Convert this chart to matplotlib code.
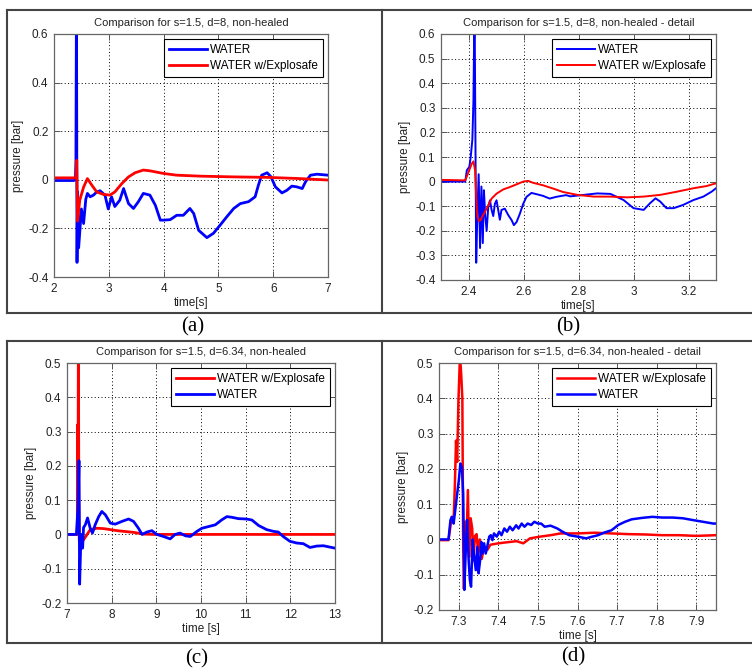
import numpy as np
import matplotlib.pyplot as plt
from matplotlib.lines import Line2D

plt.rcParams['font.family'] = ['Liberation Sans', 'DejaVu Sans']
plt.rcParams['axes.unicode_minus'] = False

# (a) s=1.5, d=8
a_water_t = [2.0, 2.36, 2.39, 2.40, 2.41, 2.42, 2.43, 2.45, 2.50, 2.54, 2.58, 2.61, 2.66, 2.72, 2.78,
             2.84, 2.93, 2.99, 3.05, 3.11, 3.20, 3.27, 3.36, 3.45, 3.54, 3.63, 3.75, 3.85, 3.94, 4.00,
             4.12, 4.24, 4.36, 4.48, 4.55, 4.64, 4.79, 4.91, 5.03, 5.15, 5.28, 5.40, 5.55, 5.67, 5.73,
             5.79, 5.89, 5.96, 6.04, 6.16, 6.25, 6.34, 6.43, 6.53, 6.59, 6.68, 6.80, 7.00]
a_water_p = [-0.003, -0.003, 0.0, 0.08, 0.75, -0.34, -0.05, -0.28, -0.12, -0.18, -0.08, -0.056, -0.07,
             -0.063, -0.05, -0.045, -0.063, -0.12, -0.07, -0.11, -0.084, -0.036, -0.098, -0.118, -0.09,
             -0.056, -0.063, -0.105, -0.166, -0.166, -0.164, -0.146, -0.146, -0.118, -0.139, -0.208,
             -0.238, -0.22, -0.187, -0.153, -0.118, -0.098, -0.09, -0.07, -0.022, 0.019, 0.029, 0.012,
             -0.029, -0.054, -0.043, -0.026, -0.029, -0.036, -0.008, 0.019, 0.023, 0.019]
a_expl_t = [2.0, 2.40, 2.415, 2.43, 2.47, 2.54, 2.61, 2.69, 2.78, 2.90, 3.02, 3.11, 3.24, 3.36, 3.48,
            3.63, 3.75, 4.00, 4.24, 4.67, 5.28, 5.89, 6.49, 7.00]
a_expl_p = [0.008, 0.008, 0.08, -0.17, -0.084, -0.03, 0.005, -0.022, -0.05, -0.06, -0.063, -0.05,
            -0.015, 0.012, 0.029, 0.04, 0.037, 0.026, 0.019, 0.015, 0.012, 0.01, 0.005, -0.001]

# (b) s=1.5, d=8 - detail
b_water_t = [2.30, 2.388, 2.394, 2.403, 2.408, 2.414, 2.418, 2.422, 2.428, 2.432, 2.437, 2.442, 2.447,
             2.452, 2.456, 2.461, 2.466, 2.472, 2.478, 2.484, 2.490, 2.496, 2.502, 2.508, 2.514, 2.520,
             2.532, 2.545, 2.557, 2.565, 2.575, 2.587, 2.599, 2.611, 2.629, 2.647, 2.671, 2.695, 2.719,
             2.755, 2.77, 2.82, 2.868, 2.916, 2.964, 3.0, 3.037, 3.06, 3.08, 3.097, 3.12, 3.146, 3.18,
             3.218, 3.254, 3.284, 3.30]
b_water_p = [0.0, 0.0, 0.046, 0.06, 0.1, 0.17, 0.33, 0.75, -0.33, -0.14, 0.03, -0.27, -0.02, -0.25,
             -0.035, -0.14, -0.2, -0.1, -0.076, -0.115, -0.14, -0.09, -0.076, -0.115, -0.155, -0.115,
             -0.11, -0.137, -0.157, -0.177, -0.164, -0.13, -0.09, -0.062, -0.046, -0.051, -0.058,
             -0.069, -0.062, -0.055, -0.06, -0.054, -0.048, -0.05, -0.075, -0.108, -0.115, -0.088,
             -0.068, -0.081, -0.108, -0.108, -0.095, -0.075, -0.061, -0.041, -0.027]
b_expl_t = [2.30, 2.388, 2.397, 2.405, 2.412, 2.418, 2.424, 2.428, 2.432, 2.437, 2.444, 2.452, 2.46,
            2.472, 2.484, 2.502, 2.526, 2.551, 2.575, 2.599, 2.617, 2.635, 2.671, 2.707, 2.743, 2.796,
            2.856, 2.916, 2.977, 3.037, 3.097, 3.158, 3.218, 3.266, 3.30]
b_expl_p = [0.007, 0.005, 0.03, 0.053, 0.073, 0.082, 0.046, -0.06, -0.14, -0.16, -0.157, -0.137,
            -0.123, -0.096, -0.069, -0.049, -0.032, -0.022, -0.011, 0.0, 0.003, -0.005, -0.015,
            -0.028, -0.042, -0.054, -0.061, -0.061, -0.064, -0.061, -0.054, -0.041, -0.027, -0.018,
            -0.007]

# (c) s=1.5, d=6.34
c_expl_t = [7.0, 7.23, 7.24, 7.245, 7.255, 7.265, 7.275, 7.32, 7.37, 7.45, 7.52, 7.67, 7.82, 8.12,
            8.49, 8.71, 8.94, 9.39, 10.0, 11.0, 12.0, 13.0]
c_expl_p = [0.0, 0.0, 0.32, 0.02, 0.6, 0.1, -0.02, -0.018, -0.016, 0.0, 0.014, 0.018, 0.017, 0.011,
            0.006, 0.001, 0.0, 0.0, 0.0, 0.0, 0.0, 0.0]
c_water_t = [7.0, 7.21, 7.246, 7.268, 7.283, 7.313, 7.35, 7.37, 7.41, 7.46, 7.52, 7.57, 7.63, 7.71,
             7.78, 7.86, 7.97, 8.08, 8.23, 8.38, 8.49, 8.60, 8.68, 8.79, 8.90, 9.01, 9.16, 9.31, 9.42,
             9.53, 9.65, 9.76, 9.91, 10.02, 10.17, 10.32, 10.47, 10.58, 10.69, 10.84, 11.02, 11.14,
             11.29, 11.47, 11.62, 11.73, 11.84, 11.99, 12.14, 12.29, 12.44, 12.59, 12.74, 12.85, 13.0]
c_water_p = [0.0, 0.0, 0.077, 0.215, -0.145, 0.0, -0.04, 0.02, 0.028, 0.048, 0.018, 0.004, 0.028,
             0.052, 0.067, 0.057, 0.033, 0.03, 0.038, 0.045, 0.038, 0.018, 0.0, 0.007, 0.011, 0.0,
             -0.006, -0.013, 0.0, 0.004, -0.004, -0.006, 0.009, 0.018, 0.023, 0.028, 0.043, 0.052,
             0.05, 0.046, 0.045, 0.042, 0.026, 0.014, 0.009, 0.007, -0.006, -0.02, -0.025, -0.027,
             -0.038, -0.034, -0.033, -0.036, -0.04]

# (d) s=1.5, d=6.34 - detail
d_expl_t = [7.25, 7.274, 7.278, 7.282, 7.287, 7.290, 7.293, 7.296, 7.299, 7.303, 7.306, 7.309, 7.311,
            7.313, 7.316, 7.319, 7.323, 7.326, 7.330, 7.334, 7.337, 7.341, 7.345, 7.349, 7.353, 7.358,
            7.364, 7.372, 7.38, 7.40, 7.43, 7.446, 7.463, 7.48, 7.506, 7.532, 7.557, 7.60, 7.643,
            7.686, 7.729, 7.772, 7.814, 7.857, 7.90, 7.95]
d_expl_p = [-0.002, -0.002, 0.03, 0.064, 0.055, 0.15, 0.28, 0.22, 0.39, 0.52, 0.47, 0.40, 0.0, -0.14,
            0.05, -0.03, 0.14, -0.05, 0.06, 0.03, -0.06, 0.01, 0.015, -0.04, 0.0, -0.055, -0.02,
            -0.03, -0.015, -0.011, -0.007, -0.005, -0.011, 0.003, 0.008, 0.012, 0.017, 0.017, 0.019,
            0.017, 0.015, 0.014, 0.012, 0.012, 0.01, 0.012]
d_water_t = [7.25, 7.274, 7.279, 7.283, 7.287, 7.291, 7.296, 7.300, 7.304, 7.308, 7.311, 7.314, 7.318,
             7.321, 7.325, 7.328, 7.331, 7.335, 7.338, 7.343, 7.347, 7.350, 7.354, 7.357, 7.360, 7.364,
             7.368, 7.372, 7.377, 7.381, 7.385, 7.389, 7.396, 7.402, 7.408, 7.415, 7.422, 7.429, 7.436,
             7.445, 7.451, 7.459, 7.466, 7.474, 7.483, 7.491, 7.500, 7.508, 7.517, 7.532, 7.549, 7.562,
             7.579, 7.60, 7.622, 7.634, 7.652, 7.669, 7.686, 7.703, 7.72, 7.737, 7.763, 7.789, 7.814,
             7.84, 7.866, 7.891, 7.917, 7.943, 7.95]
d_water_p = [0.0, 0.0, 0.055, 0.064, 0.045, 0.083, 0.13, 0.167, 0.215, 0.205, 0.13, -0.143, -0.02,
             0.055, -0.06, -0.115, -0.134, 0.0, -0.04, -0.087, -0.021, -0.096, -0.058, -0.007, -0.04,
             -0.011, -0.04, -0.02, 0.008, 0.012, -0.002, 0.017, 0.008, 0.022, 0.012, 0.031, 0.022,
             0.036, 0.026, 0.04, 0.031, 0.045, 0.036, 0.045, 0.041, 0.05, 0.045, 0.045, 0.036, 0.039,
             0.031, 0.022, 0.012, 0.008, 0.003, 0.007, 0.012, 0.02, 0.026, 0.041, 0.05, 0.057, 0.061,
             0.064, 0.062, 0.062, 0.06, 0.055, 0.05, 0.045, 0.045]

W, H = 752, 670
fig = plt.figure(figsize=(W/100, H/100), dpi=100)


def rect(l, t, r, b):
    return [l/W, 1 - b/H, (r - l)/W, (b - t)/H]


def style(ax, xlim, ylim, xticks, yticks, title, xlabel):
    ax.set_xlim(xlim)
    ax.set_ylim(ylim)
    ax.set_xticks(xticks)
    ax.set_yticks(yticks)
    ax.set_xticklabels(['%g' % v for v in xticks])
    ax.set_yticklabels(['%g' % v for v in yticks])
    ax.tick_params(direction='in', length=4, width=0.7, top=True, right=True,
                   labelsize=8.5, colors='#222222', pad=4)
    ax.tick_params(colors='#555555', labelcolor='#222222')
    for s in ax.spines.values():
        s.set_color('#666666')
        s.set_linewidth(0.9)
    ax.grid(True, color='k', linestyle=(0, (1, 2.5)), linewidth=0.7)
    ax.set_axisbelow(True)
    ax.set_title(title, fontsize=8, color='#222222', pad=6)
    ax.set_xlabel(xlabel, fontsize=8.5, color='#222222', labelpad=2)
    ax.set_ylabel('pressure [bar]', fontsize=8.5, color='#222222', labelpad=3)
    leg = ax.legend(loc='upper right', fontsize=8.5, fancybox=False, framealpha=1,
                    edgecolor='k', handlelength=3.2, handletextpad=0.3, labelspacing=0.35,
                    borderaxespad=0.45, borderpad=0.4)
    leg.get_frame().set_linewidth(0.8)


ax1 = fig.add_axes(rect(54, 34, 328, 277))
ax1.plot(a_water_t, a_water_p, color='b', lw=2.0, label='WATER')
ax1.plot(a_expl_t, a_expl_p, color='r', lw=2.0, label='WATER w/Explosafe')
style(ax1, (2, 7), (-0.4, 0.6), [2, 3, 4, 5, 6, 7], [-0.4, -0.2, 0, 0.2, 0.4, 0.6],
      'Comparison for s=1.5, d=8, non-healed', 'time[s]')

ax2 = fig.add_axes(rect(441, 34, 716, 280))
ax2.plot(b_water_t, b_water_p, color='b', lw=1.4, label='WATER')
ax2.plot(b_expl_t, b_expl_p, color='r', lw=1.4, label='WATER w/Explosafe')
style(ax2, (2.3, 3.3), (-0.4, 0.6), [2.4, 2.6, 2.8, 3.0, 3.2],
      [-0.4, -0.3, -0.2, -0.1, 0, 0.1, 0.2, 0.3, 0.4, 0.5, 0.6],
      'Comparison for s=1.5, d=8, non-healed - detail', 'time[s]')

ax3 = fig.add_axes(rect(67, 363, 335, 603))
ax3.plot(c_expl_t, c_expl_p, color='r', lw=2.0, label='WATER w/Explosafe')
ax3.plot(c_water_t, c_water_p, color='b', lw=2.0, label='WATER')
style(ax3, (7, 13), (-0.2, 0.5), [7, 8, 9, 10, 11, 12, 13],
      [-0.2, -0.1, 0, 0.1, 0.2, 0.3, 0.4, 0.5],
      'Comparison for s=1.5, d=6.34, non-healed', 'time [s]')

ax4 = fig.add_axes(rect(439, 363, 716, 610))
ax4.plot(d_expl_t, d_expl_p, color='r', lw=1.8, label='WATER w/Explosafe')
ax4.plot(d_water_t, d_water_p, color='b', lw=1.8, label='WATER')
style(ax4, (7.25, 7.95), (-0.2, 0.5), [7.3, 7.4, 7.5, 7.6, 7.7, 7.8, 7.9],
      [-0.2, -0.1, 0, 0.1, 0.2, 0.3, 0.4, 0.5],
      'Comparison for s=1.5, d=6.34, non-healed - detail', 'time [s]')

# panel frames
def fline(xs, ys):
    fig.add_artist(Line2D([x/W for x in xs], [1 - y/H for y in ys], color='#444444', lw=1.5))

fline([7, W], [10, 10])
fline([7, W], [313, 313])
fline([7, W], [341, 341])
fline([7, W], [643, 643])
fline([7, 7], [10, 313])
fline([7, 7], [341, 643])
fline([382, 382], [10, 313])
fline([382, 382], [341, 643])

for lab, x, y in [('(a)', 193, 327), ('(b)', 568, 327), ('(c)', 197, 659), ('(d)', 573, 657)]:
    fig.text(x/W, 1 - y/H, lab, family='Liberation Serif', fontsize=15, ha='center', va='center')

fig.savefig('out.png', dpi=100)
